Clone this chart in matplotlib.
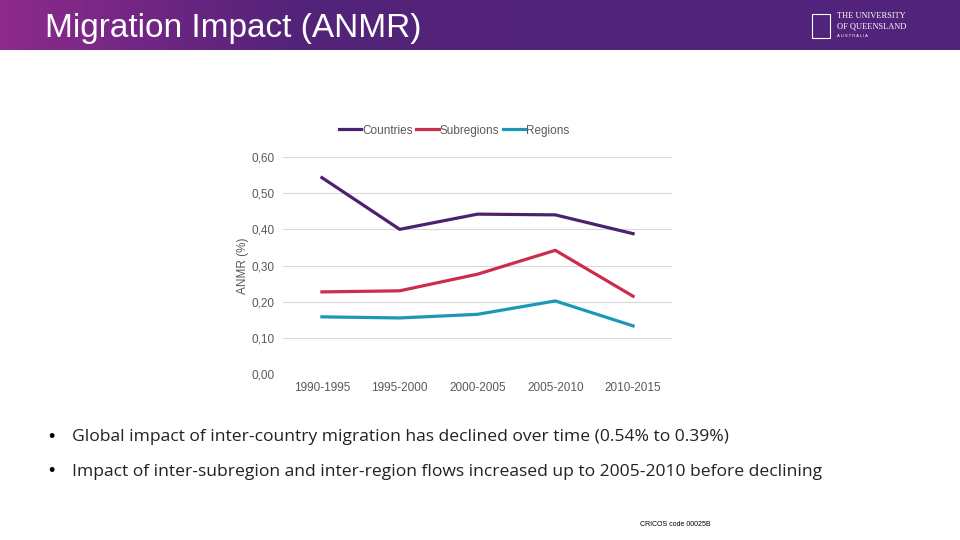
import numpy as np
import matplotlib.pyplot as plt
from matplotlib.colors import LinearSegmentedColormap

# chart data
periods = ["1990-1995", "1995-2000", "2000-2005", "2005-2010", "2010-2015"]
countries = [0.543, 0.400, 0.442, 0.440, 0.388]
subregions = [0.227, 0.230, 0.276, 0.342, 0.215]
regions = [0.158, 0.155, 0.165, 0.202, 0.133]
yticks = [0.0, 0.1, 0.2, 0.3, 0.4, 0.5, 0.6]
bullets = [
    "Global impact of inter-country migration has declined over time (0.54% to 0.39%)",
    "Impact of inter-subregion and inter-region flows increased up to 2005-2010 before declining",
]

plt.rcParams['font.family'] = ['Liberation Sans', 'DejaVu Sans']

fig = plt.figure(figsize=(9.6, 5.4), dpi=100)

# header band with gradient
hdr = fig.add_axes([0, 1 - 50 / 540, 1, 50 / 540])
cmap = LinearSegmentedColormap.from_list("hdr", [(0, "#8e2a8c"), (0.3, "#54237a"), (1, "#51247a")])
hdr.imshow(np.linspace(0, 1, 256).reshape(1, -1), aspect="auto", cmap=cmap, extent=[0, 1, 0, 1])
hdr.set_xlim(0, 1)
hdr.set_ylim(0, 1)
hdr.axis("off")
fig.text(45 / 960, 1 - 28 / 540, "Migration Impact (ANMR)", color="white", fontsize=24,
         va="center", ha="left")

# logo
fig.patches.append(plt.Rectangle((812 / 960, 1 - 38 / 540), 18 / 960, 24 / 540, transform=fig.transFigure,
                                 fill=False, edgecolor="white", linewidth=0.8))
fig.text(837 / 960, 1 - 16 / 540, "THE UNIVERSITY", color="white", fontsize=6, family="Liberation Serif", va="center")
fig.text(837 / 960, 1 - 27 / 540, "OF QUEENSLAND", color="white", fontsize=6, family="Liberation Serif", va="center")
fig.text(837 / 960, 1 - 36 / 540, "A U S T R A L I A", color="white", fontsize=3, va="center")

# chart
ax = fig.add_axes([283 / 960, 1 - 374 / 540, 389 / 960, 217 / 540])
x = np.arange(len(periods))
ax.plot(x, countries, color="#4b2270", linewidth=2.3, label="Countries")
ax.plot(x, subregions, color="#cc2d4a", linewidth=2.3, label="Subregions")
ax.plot(x, regions, color="#1c98b6", linewidth=2.3, label="Regions")
ax.set_xlim(-0.5, len(periods) - 0.5)
ax.set_ylim(0, 0.6)
ax.set_yticks(yticks)
ax.set_yticklabels([f"{v:.2f}".replace(".", ",") for v in yticks])
ax.set_xticks(x)
ax.set_xticklabels(periods)
ax.tick_params(length=0, labelsize=8.5, labelcolor="#595959", pad=6)
ax.grid(axis="y", color="#d9d9d9", linewidth=0.8)
ax.set_axisbelow(True)
for s in ax.spines.values():
    s.set_visible(False)
ax.set_ylabel("ANMR (%)", fontsize=8.5, color="#595959", labelpad=2)
ax.legend(loc="lower center", bbox_to_anchor=(0.44, 1.045), ncol=3, frameon=False, fontsize=8.5,
          handlelength=1.9, handletextpad=0.1, columnspacing=0.3, labelcolor="#595959")

# bullets
for i, b in enumerate(bullets):
    yy = 1 - (437 + 35 * i) / 540
    fig.text(48 / 960, yy, "\u2022", fontsize=13, va="center", color="black")
    fig.text(72 / 960, yy, b, fontsize=12.6, family="Open Sans", va="center", color="#222222")

fig.text(640 / 960, 1 - 524 / 540, "CRICOS code 00025B", fontsize=5, va="center", color="black")

fig.savefig("out.png", dpi=100)
